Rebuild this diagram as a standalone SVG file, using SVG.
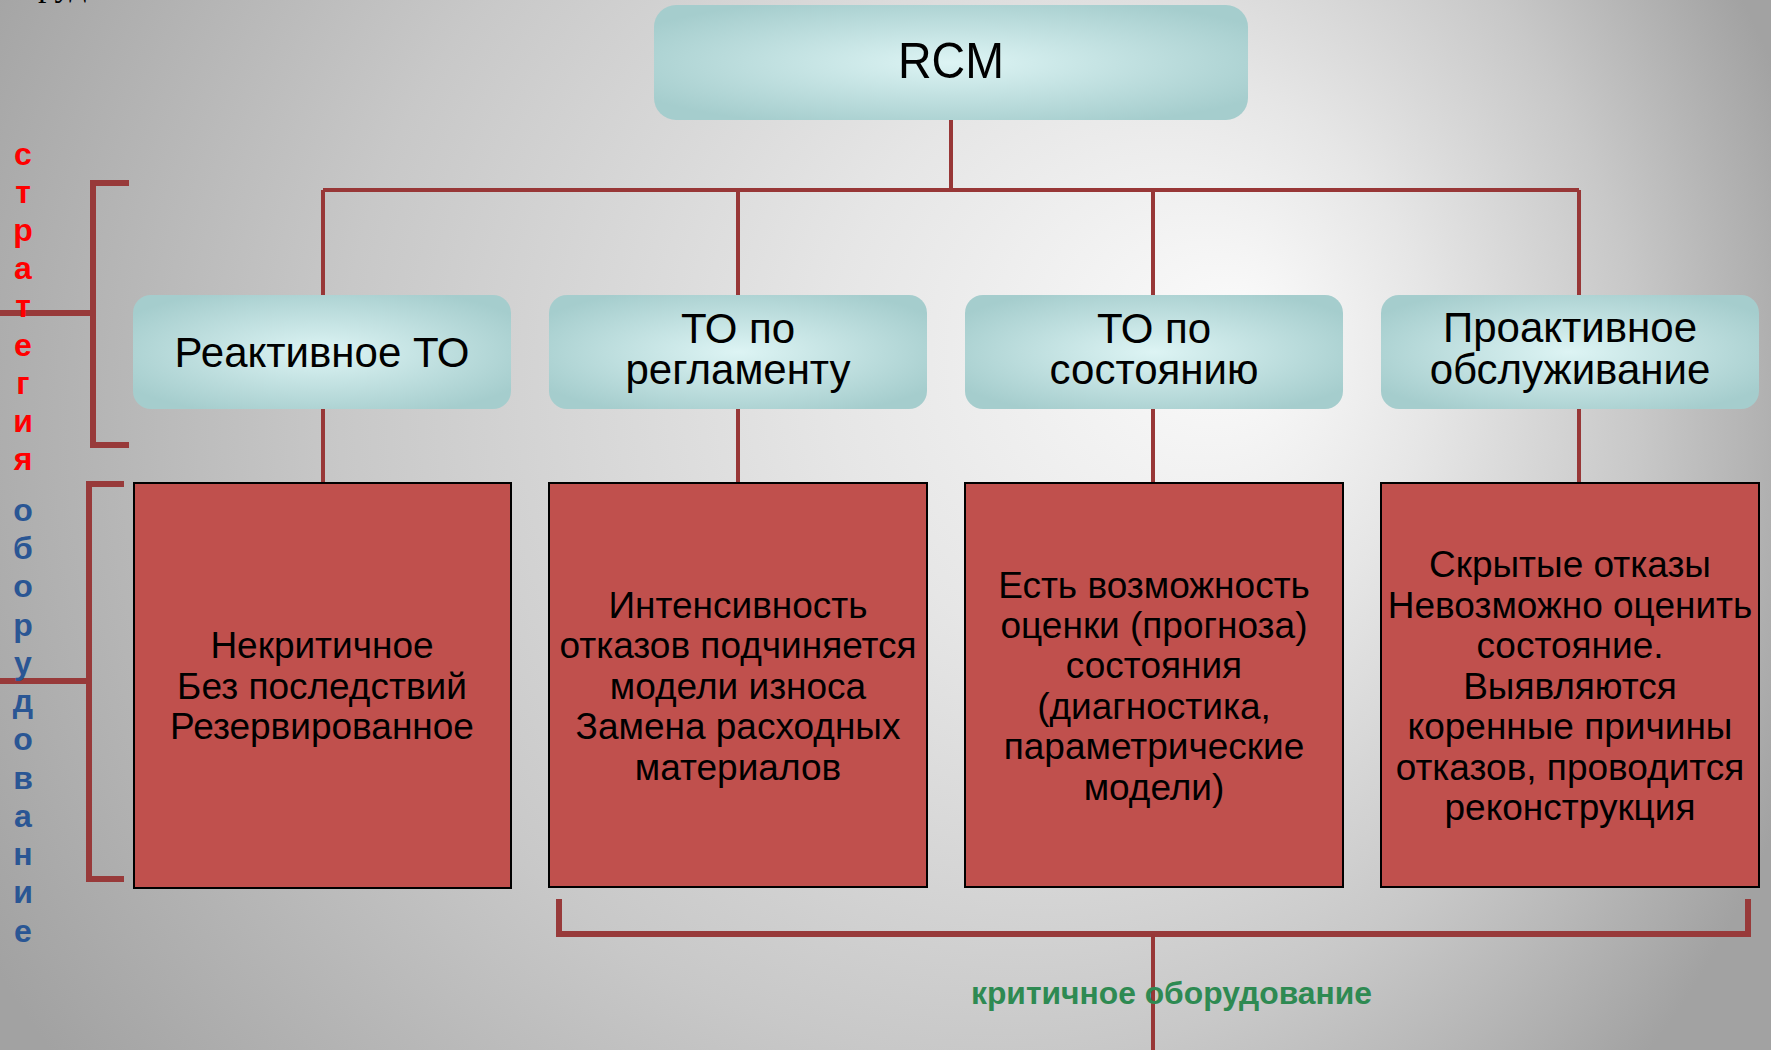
<svg xmlns="http://www.w3.org/2000/svg" width="1771" height="1050" viewBox="0 0 1771 1050">
  <defs>
    <radialGradient id="bg" gradientUnits="userSpaceOnUse" cx="850" cy="450" r="1000" fx="1250" fy="330">
      <stop offset="0" stop-color="#fbfbfb"/>
      <stop offset="0.3" stop-color="#e6e6e6"/>
      <stop offset="0.65" stop-color="#c8c8c8"/>
      <stop offset="1" stop-color="#a2a2a2"/>
    </radialGradient>
    <radialGradient id="teal" cx="0.5" cy="0.5" r="0.6">
      <stop offset="0" stop-color="#ddf4f4"/>
      <stop offset="1" stop-color="#a5cdcd"/>
    </radialGradient>
    <style>
      .top { fill: url(#teal); }
      .red { fill: #c0504d; stroke: #000; stroke-width: 2; }
      .conn { stroke: #983737; stroke-width: 4; fill: none; }
      .brk { stroke: #983a3a; stroke-width: 6; fill: none; }
      .t1 { font-family: "Liberation Sans", Arial, sans-serif; font-size: 50px; fill: #000; text-anchor: middle; }
      .t2 { font-family: "Liberation Sans", Arial, sans-serif; font-size: 42px; fill: #000; text-anchor: middle; }
      .t3 { font-family: "Liberation Sans", Arial, sans-serif; font-size: 37px; fill: #000; text-anchor: middle; }
      .vs { font-family: "Liberation Sans", Arial, sans-serif; font-size: 32px; font-weight: bold; text-anchor: middle; }
    </style>
  </defs>

  <rect x="0" y="0" width="1771" height="1050" fill="url(#bg)"/>
  <text x="24" y="-4" font-family="Liberation Serif, serif" font-size="34" fill="#000">груд</text>

  <g id="connectors">
    <path class="conn" d="M951,120 V190 M323,190 H1579 M323,190 V295 M738,190 V295 M1153,190 V295 M1579,190 V295"/>
    <path class="conn" d="M323,409 V483 M738,409 V483 M1153,409 V483 M1579,409 V483"/>
    <path class="brk" d="M129,183 H93 V445 H129 M0,313 H93"/>
    <path class="brk" d="M124,484 H89 V879 H124 M0,681 H89"/>
    <path class="brk" d="M559,899 V934 H1748 V899"/>
    <path class="conn" d="M1153,934 V1050"/>
  </g>

  <g id="rcm">
    <rect class="top" x="654" y="5" width="594" height="115" rx="22"/>
    <text class="t1" x="951" y="78" textLength="106" lengthAdjust="spacingAndGlyphs">RCM</text>
  </g>

  <g id="reactive">
    <rect class="top" x="133" y="295" width="378" height="114" rx="18"/>
    <text class="t2" x="322" y="367">Реактивное ТО</text>
  </g>
  <g id="scheduled">
    <rect class="top" x="549" y="295" width="378" height="114" rx="18"/>
    <text class="t2" x="738" y="343">ТО по</text>
    <text class="t2" x="738" y="384">регламенту</text>
  </g>
  <g id="condition">
    <rect class="top" x="965" y="295" width="378" height="114" rx="18"/>
    <text class="t2" x="1154" y="343">ТО по</text>
    <text class="t2" x="1154" y="384">состоянию</text>
  </g>
  <g id="proactive">
    <rect class="top" x="1381" y="295" width="378" height="114" rx="18"/>
    <text class="t2" x="1570" y="342">Проактивное</text>
    <text class="t2" x="1570" y="384">обслуживание</text>
  </g>

  <g id="noncritical">
    <rect class="red" x="134" y="483" width="377" height="405"/>
    <text class="t3" x="322" y="658">Некритичное</text>
    <text class="t3" x="322" y="699">Без последствий</text>
    <text class="t3" x="322" y="739">Резервированное</text>
  </g>
  <g id="wear">
    <rect class="red" x="549" y="483" width="378" height="404"/>
    <text class="t3" x="738" y="618">Интенсивность</text>
    <text class="t3" x="738" y="658">отказов подчиняется</text>
    <text class="t3" x="738" y="699">модели износа</text>
    <text class="t3" x="738" y="739">Замена расходных</text>
    <text class="t3" x="738" y="780">материалов</text>
  </g>
  <g id="diagnostics">
    <rect class="red" x="965" y="483" width="378" height="404"/>
    <text class="t3" x="1154" y="598">Есть возможность</text>
    <text class="t3" x="1154" y="638">оценки (прогноза)</text>
    <text class="t3" x="1154" y="678">состояния</text>
    <text class="t3" x="1154" y="719">(диагностика,</text>
    <text class="t3" x="1154" y="759">параметрические</text>
    <text class="t3" x="1154" y="800">модели)</text>
  </g>
  <g id="hidden">
    <rect class="red" x="1381" y="483" width="378" height="404"/>
    <text class="t3" x="1570" y="577">Скрытые отказы</text>
    <text class="t3" x="1570" y="618">Невозможно оценить</text>
    <text class="t3" x="1570" y="658">состояние.</text>
    <text class="t3" x="1570" y="699">Выявляются</text>
    <text class="t3" x="1570" y="739">коренные причины</text>
    <text class="t3" x="1570" y="780">отказов, проводится</text>
    <text class="t3" x="1570" y="820">реконструкция</text>
  </g>

  <g id="strategy-label" class="vs" fill="#ff0000">
    <text x="23" y="165">с</text>
    <text x="23" y="203">т</text>
    <text x="23" y="241">р</text>
    <text x="23" y="279">а</text>
    <text x="23" y="317">т</text>
    <text x="23" y="356">е</text>
    <text x="23" y="394">г</text>
    <text x="23" y="432">и</text>
    <text x="23" y="470">я</text>
  </g>
  <g id="equipment-label" class="vs" fill="#2a5694">
    <text x="23" y="521">о</text>
    <text x="23" y="559">б</text>
    <text x="23" y="597">о</text>
    <text x="23" y="636">р</text>
    <text x="23" y="674">у</text>
    <text x="23" y="712">д</text>
    <text x="23" y="750">о</text>
    <text x="23" y="789">в</text>
    <text x="23" y="827">а</text>
    <text x="23" y="865">н</text>
    <text x="23" y="903">и</text>
    <text x="23" y="942">е</text>
  </g>

  <g id="critical-label">
    <text x="971" y="1004" font-family="Liberation Sans, Arial, sans-serif" font-size="32" font-weight="bold" fill="#2e8a52" textLength="401" lengthAdjust="spacingAndGlyphs">критичное оборудование</text>
  </g>
</svg>
